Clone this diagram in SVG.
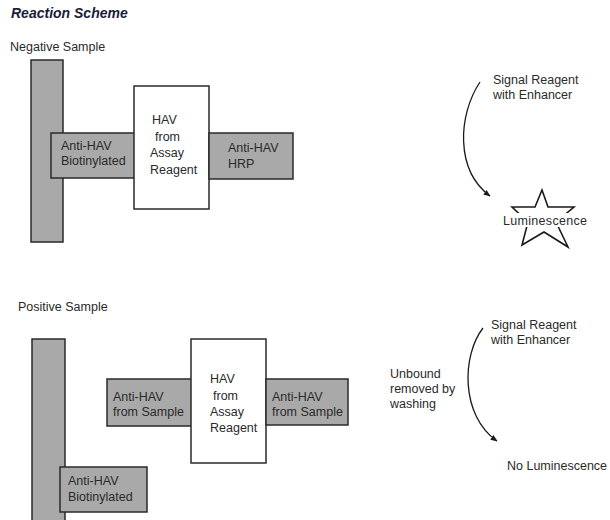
<svg xmlns="http://www.w3.org/2000/svg" width="610" height="520" viewBox="0 0 610 520">
<defs>
<style>
text{font-family:"Liberation Sans",Arial,sans-serif;font-size:12.5px;fill:#2a2a2a}
.title{font-weight:bold;font-style:italic;font-size:14px;fill:#1c1c3a}
.g{fill:#a9a9a9;stroke:#2a2a2a;stroke-width:1.5}
.w{fill:#ffffff;stroke:#2a2a2a;stroke-width:1.5}
.arc{fill:none;stroke:#1a1a1a;stroke-width:1.3}
</style>
<marker id="ah" viewBox="0 0 10 10" refX="9" refY="5" markerWidth="7" markerHeight="7" orient="auto" markerUnits="userSpaceOnUse">
<path d="M0,1 L10,5 L0,9 Z" fill="#1a1a1a"/>
</marker>
</defs>
<rect width="610" height="520" fill="#ffffff"/>
<text class="title" x="11" y="18">Reaction Scheme</text>
<text x="10" y="51">Negative Sample</text>
<text x="18" y="311">Positive Sample</text>

<g id="neg-solid">
<rect class="g" x="31" y="60" width="32" height="182"/>
</g>
<g id="neg-biotin">
<rect class="g" x="51" y="133" width="84" height="45"/>
<text x="61" y="150">Anti-HAV</text>
<text x="61" y="165">Biotinylated</text>
</g>
<g id="neg-hav">
<rect class="w" x="134" y="86" width="75" height="123"/>
<text x="152" y="124">HAV</text>
<text x="155" y="141">from</text>
<text x="150" y="157">Assay</text>
<text x="150" y="174">Reagent</text>
</g>
<g id="neg-hrp">
<rect class="g" x="209" y="133" width="84" height="46"/>
<text x="228" y="152">Anti-HAV</text>
<text x="228" y="168">HRP</text>
</g>

<g id="pos-solid">
<rect class="g" x="32" y="339" width="33" height="190"/>
</g>
<g id="pos-sample-left">
<rect class="g" x="107" y="379" width="85" height="47"/>
<text x="113" y="401">Anti-HAV</text>
<text x="113" y="416">from Sample</text>
</g>
<g id="pos-hav">
<rect class="w" x="191" y="339" width="75" height="124"/>
<text x="210" y="383">HAV</text>
<text x="213" y="400">from</text>
<text x="210" y="416">Assay</text>
<text x="210" y="432">Reagent</text>
</g>
<g id="pos-sample-right">
<rect class="g" x="266" y="379" width="82" height="46"/>
<text x="272" y="401">Anti-HAV</text>
<text x="272" y="416">from Sample</text>
</g>
<g id="pos-biotin">
<rect class="g" x="60" y="467" width="87" height="45"/>
<text x="68" y="485">Anti-HAV</text>
<text x="68" y="501">Biotinylated</text>
</g>

<g id="connectors">
<path class="arc" d="M480,82 C458,115 455,170 490,196" marker-end="url(#ah)"/>
<path class="arc" d="M483,328 C462,355 460,415 497,441" marker-end="url(#ah)"/>
</g>

<g id="neg-signal">
<text x="493" y="84">Signal Reagent</text>
<text x="493" y="99">with Enhancer</text>
</g>
<g id="luminescence">
<polygon points="542,190 548,207 574,207 556,222 568,247 544,232 522,245 528,222 512,207 535,207" fill="none" stroke="#1a1a1a" stroke-width="1.6" stroke-linejoin="miter"/>
<rect x="502" y="213" width="86" height="14" fill="#ffffff"/>
<text x="503" y="225" textLength="84">Luminescence</text>
</g>
<g id="washing">
<text x="390" y="378">Unbound</text>
<text x="390" y="393">removed by</text>
<text x="390" y="408">washing</text>
</g>
<g id="pos-signal">
<text x="491" y="329">Signal Reagent</text>
<text x="491" y="344">with Enhancer</text>
</g>
<g id="no-lum">
<text x="507" y="470">No Luminescence</text>
</g>
</svg>
